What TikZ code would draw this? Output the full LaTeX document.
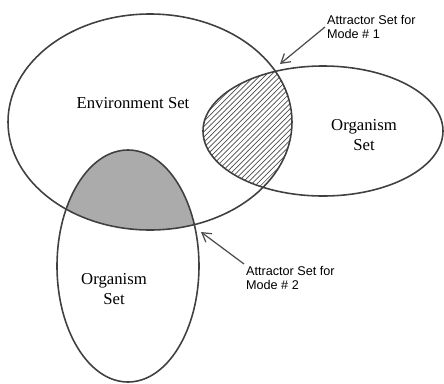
\documentclass[tikz,border=0pt]{standalone}
\usepackage{fontspec}
\setmainfont{Liberation Serif}
\setsansfont{Liberation Sans}
\usetikzlibrary{shapes,positioning,calc,patterns,arrows.meta}

\begin{document}
\begin{tikzpicture}[x=0.02cm, y=-0.02cm,
    set/.style={draw=black!75, line width=0.9pt},
    lbl/.style={font=\fontsize{9.5}{11}\selectfont, align=center},
    note/.style={font=\sffamily\fontsize{7.2}{8}\selectfont, align=left, inner sep=1pt},
    pointer/.style={-{Straight Barb[length=5pt,width=6pt]}, draw=black!70, line width=0.7pt}]
      \useasboundingbox (0,0) rectangle (444,383);
      % overlaps
      \begin{scope}
        \clip (150,122) ellipse [x radius=142, y radius=108];
        \fill[pattern=north east lines, pattern color=black!70] (323,131) ellipse [x radius=120, y radius=65];
        \fill[black!33] (128,266) ellipse [x radius=71, y radius=116];
      \end{scope}
      % sets
      \draw[set] (150,122) ellipse [x radius=142, y radius=108];
      \draw[set] (323,131) ellipse [x radius=120, y radius=65];
      \draw[set] (128,266) ellipse [x radius=71, y radius=116];
      \node[lbl] (env) at (133,103) {Environment Set};
      \node[lbl] (orgA) at (364,135) {Organism\\Set};
      \node[lbl] (orgB) at (114,289) {Organism\\Set};
      % attractors
      \node[note, anchor=west] (modeA) at (325,27) {Attractor Set for\\Mode \# 1};
      \node[note, anchor=north west] (modeB) at (244,264) {Attractor Set for\\Mode \# 2};
      \coordinate (tipA) at (280,64);
      \coordinate (tipB) at (201,232);
      \draw[pointer] (modeA.west) -- (tipA);
      \draw[pointer] (modeB.north west) -- (tipB);
    \end{tikzpicture}
\end{document}
